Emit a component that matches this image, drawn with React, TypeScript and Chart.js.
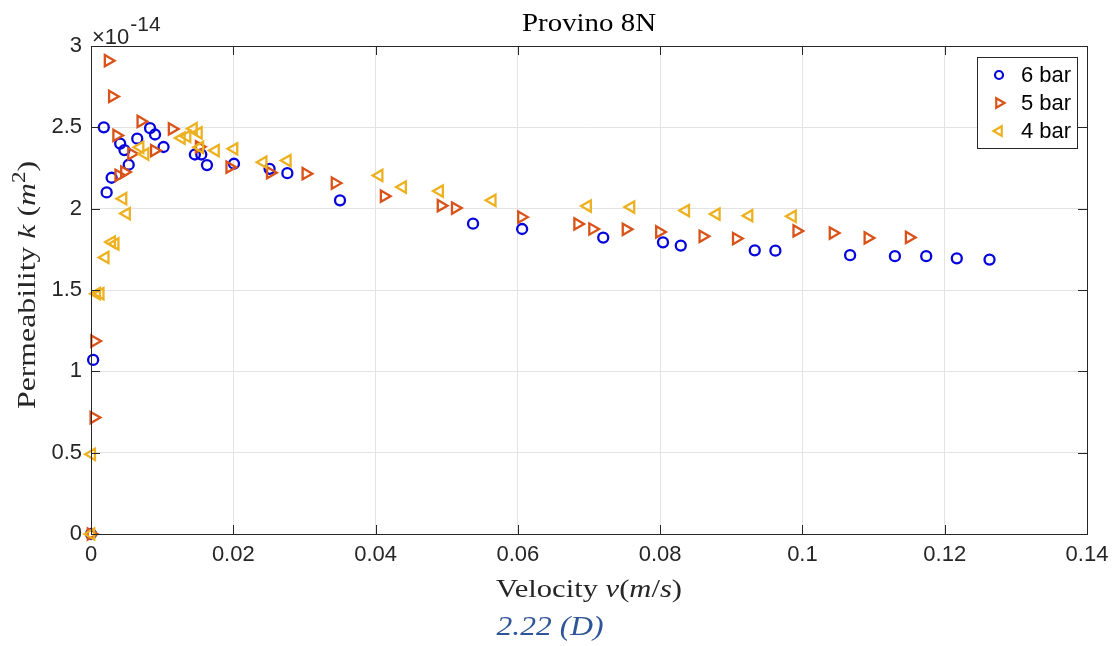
import React, { useEffect, useRef } from 'react';
import { Chart, registerables } from 'chart.js';

Chart.register(...registerables);

// ---- data (permeability in units of 1e-14 m^2) ----
const seriesLabels = ['6 bar', '5 bar', '4 bar'];

const velocity6 = [0, 0.0003, 0.0018, 0.0022, 0.0029, 0.0041, 0.0047, 0.0053, 0.0065, 0.0083, 0.009, 0.0102, 0.0146, 0.0155, 0.0163, 0.0201, 0.0251, 0.0276, 0.035, 0.0537, 0.0606, 0.072, 0.0804, 0.0829, 0.0933, 0.0962, 0.1067, 0.113, 0.1174, 0.1217, 0.1263];
const perm6 = [0, 1.07, 2.5, 2.1, 2.19, 2.4, 2.36, 2.27, 2.43, 2.495, 2.456, 2.379, 2.333, 2.333, 2.268, 2.276, 2.245, 2.218, 2.051, 1.908, 1.875, 1.822, 1.793, 1.773, 1.744, 1.742, 1.714, 1.708, 1.708, 1.695, 1.687];

const velocity5 = [0, 0.0004, 0.0005, 0.0024, 0.003, 0.0036, 0.0039, 0.0047, 0.0057, 0.007, 0.0089, 0.0114, 0.0152, 0.0195, 0.0252, 0.0302, 0.0343, 0.0412, 0.0492, 0.0512, 0.0605, 0.0684, 0.0705, 0.0752, 0.0799, 0.086, 0.0907, 0.0992, 0.1043, 0.1092, 0.115];
const perm5 = [0, 0.716, 1.186, 2.91, 2.69, 2.45, 2.205, 2.225, 2.337, 2.536, 2.357, 2.49, 2.38, 2.255, 2.221, 2.215, 2.157, 2.077, 2.018, 2.004, 1.948, 1.906, 1.875, 1.873, 1.857, 1.83, 1.816, 1.863, 1.85, 1.82, 1.823];

const velocity4 = [0, 0.0001, 0.0008, 0.0013, 0.002, 0.0029, 0.0034, 0.0045, 0.005, 0.0069, 0.0076, 0.0127, 0.0135, 0.0144, 0.0151, 0.0153, 0.0175, 0.0201, 0.0242, 0.0276, 0.0405, 0.0438, 0.049, 0.0564, 0.0698, 0.0759, 0.0836, 0.0879, 0.0925, 0.0986];
const perm4 = [0, 0.49, 1.477, 1.477, 1.7, 1.795, 1.783, 2.061, 1.97, 2.377, 2.336, 2.434, 2.445, 2.492, 2.466, 2.377, 2.357, 2.368, 2.286, 2.296, 2.204, 2.133, 2.108, 2.051, 2.016, 2.01, 1.988, 1.967, 1.957, 1.953];

const xTickValues = [0, 0.02, 0.04, 0.06, 0.08, 0.1, 0.12, 0.14];
const yTickValues = [0, 0.5, 1, 1.5, 2, 2.5, 3];

const titleText = 'Provino 8N';
const captionText = '2.22 (D)';

const colors = ['#0505dc', '#d95319', '#edb120'];

const SERIF = '"Liberation Serif", "Times New Roman", serif';
const SANS = '"Liberation Sans", Arial, Helvetica, sans-serif';
const AXIS = '#262626';

type Seg = { t: string; it?: boolean; sup?: boolean };

function drawSegs(ctx: CanvasRenderingContext2D, segs: Seg[], cx: number, baseline: number, size: number, target?: number) {
  const fontOf = (s: Seg) => `${s.it ? 'italic ' : ''}${s.sup ? Math.round(size * 0.7) : size}px ${SERIF}`;
  let total = 0;
  segs.forEach((s) => { ctx.font = fontOf(s); total += ctx.measureText(s.t).width; });
  const sx = target ? target / total : 1;
  ctx.save();
  ctx.translate(cx, baseline);
  ctx.scale(sx, 1);
  let x = -total / 2;
  ctx.textAlign = 'left';
  ctx.textBaseline = 'alphabetic';
  segs.forEach((s) => {
    ctx.font = fontOf(s);
    ctx.fillText(s.t, x, s.sup ? -size * 0.4 : 0);
    x += ctx.measureText(s.t).width;
  });
  ctx.restore();
}

function drawMarker(ctx: CanvasRenderingContext2D, kind: number, x: number, y: number, r: number, color: string) {
  ctx.strokeStyle = color;
  ctx.lineWidth = 2.2;
  ctx.beginPath();
  if (kind === 0) {
    ctx.arc(x, y, r, 0, Math.PI * 2);
  } else {
    const dir = kind === 1 ? 1 : -1;
    ctx.moveTo(x + dir * r, y);
    ctx.lineTo(x - dir * r * 0.5, y - r * 0.866);
    ctx.lineTo(x - dir * r * 0.5, y + r * 0.866);
    ctx.closePath();
  }
  ctx.stroke();
}

const decorPlugin = {
  id: 'decor',
  afterDraw(chart: any) {
    const { ctx, chartArea: a, scales } = chart;
    const xs = scales.x;
    const ys = scales.y;
    ctx.save();
    // frame
    ctx.strokeStyle = AXIS;
    ctx.lineWidth = 1;
    ctx.strokeRect(Math.round(a.left) + 0.5, Math.round(a.top) + 0.5, Math.round(a.right - a.left), Math.round(a.bottom - a.top));
    // inward ticks
    const tl = 9;
    ctx.beginPath();
    xTickValues.forEach((v) => {
      const px = Math.round(xs.getPixelForValue(v)) + 0.5;
      ctx.moveTo(px, a.bottom); ctx.lineTo(px, a.bottom - tl);
      ctx.moveTo(px, a.top); ctx.lineTo(px, a.top + tl);
    });
    yTickValues.forEach((v) => {
      const py = Math.round(ys.getPixelForValue(v)) + 0.5;
      ctx.moveTo(a.left, py); ctx.lineTo(a.left + tl, py);
      ctx.moveTo(a.right, py); ctx.lineTo(a.right - tl, py);
    });
    ctx.stroke();

    // title
    ctx.fillStyle = '#000';
    drawSegs(ctx, [{ t: titleText }], (a.left + a.right) / 2, 31, 25, 134);

    // exponent label
    ctx.fillStyle = AXIS;
    ctx.textAlign = 'left';
    ctx.textBaseline = 'alphabetic';
    ctx.font = `22px ${SANS}`;
    ctx.fillText('\u00d710', a.left + 1, 44);
    const w = ctx.measureText('\u00d710').width;
    ctx.font = `21px ${SANS}`;
    ctx.fillText('-14', a.left + 1 + w + 1, 31);

    // x axis title
    ctx.fillStyle = AXIS;
    drawSegs(ctx, [
      { t: 'Velocity ' }, { t: 'v', it: true }, { t: '(' }, { t: 'm', it: true }, { t: '/' }, { t: 's', it: true }, { t: ')' },
    ], (a.left + a.right) / 2, 597, 25, 186);

    // y axis title
    ctx.save();
    ctx.translate(35, (a.top + a.bottom) / 2 - 5);
    ctx.rotate(-Math.PI / 2);
    drawSegs(ctx, [
      { t: 'Permeability ' }, { t: 'k', it: true }, { t: ' (' }, { t: 'm', it: true }, { t: '2', sup: true }, { t: ')' },
    ], 0, 0, 25, 248);
    ctx.restore();

    // caption
    ctx.fillStyle = '#2e5597';
    drawSegs(ctx, [{ t: captionText, it: true }], 550, 635, 28, 107);

    // legend
    const lx = 977, ly = 57, lw = 100, lh = 91;
    ctx.fillStyle = '#fff';
    ctx.fillRect(lx, ly, lw, lh);
    ctx.strokeStyle = AXIS;
    ctx.lineWidth = 1;
    ctx.strokeRect(lx + 0.5, ly + 0.5, lw, lh);
    const rows = [75, 103, 131];
    seriesLabels.forEach((lab, i) => {
      drawMarker(ctx, i, 999, rows[i], i === 0 ? 4 : 5.5, colors[i]);
      ctx.fillStyle = '#000';
      ctx.font = `22px ${SANS}`;
      ctx.textAlign = 'left';
      ctx.textBaseline = 'middle';
      ctx.fillText(lab, 1021, rows[i] + 1);
    });
    ctx.restore();
  },
};

function toPoints(xs: number[], ys: number[]) {
  return xs.map((x, i) => ({ x, y: ys[i] }));
}

export default function App() {
  const ref = useRef<HTMLCanvasElement | null>(null);

  useEffect(() => {
    const canvas = ref.current;
    if (!canvas) return;
    const chart = new Chart(canvas, {
      type: 'scatter',
      data: {
        datasets: [
          {
            label: seriesLabels[0],
            data: toPoints(velocity6, perm6),
            pointStyle: 'circle',
            pointRadius: 5,
            pointBorderWidth: 2.3,
            borderColor: colors[0],
            backgroundColor: 'rgba(0,0,0,0)',
            clip: false,
            order: 2,
          },
          {
            label: seriesLabels[1],
            data: toPoints(velocity5, perm5),
            pointStyle: 'triangle',
            pointRotation: 90,
            pointRadius: 6.5,
            pointBorderWidth: 2.3,
            borderColor: colors[1],
            backgroundColor: 'rgba(0,0,0,0)',
            clip: false,
            order: 1,
          },
          {
            label: seriesLabels[2],
            data: toPoints(velocity4, perm4),
            pointStyle: 'triangle',
            pointRotation: -90,
            pointRadius: 6.5,
            pointBorderWidth: 2.3,
            borderColor: colors[2],
            backgroundColor: 'rgba(0,0,0,0)',
            clip: false,
            order: 0,
          },
        ],
      },
      options: {
        responsive: false,
        animation: false,
        devicePixelRatio: 1,
        events: [],
        layout: { padding: { top: 46, left: 0, right: 32, bottom: 72 } },
        plugins: {
          legend: { display: false },
          tooltip: { enabled: false },
          title: { display: false },
        },
        scales: {
          x: {
            type: 'linear',
            min: 0,
            max: 0.14,
            afterFit: (s: any) => { s.height = 40; },
            afterBuildTicks: (s: any) => { s.ticks = xTickValues.map((v) => ({ value: v })); },
            ticks: {
              padding: 8,
              color: AXIS,
              font: { family: SANS, size: 22 },
              callback: (v: any) => String(parseFloat(Number(v).toFixed(2))),
              maxRotation: 0,
            },
            grid: { color: '#e3e3e3', drawTicks: false },
            border: { display: true, color: AXIS },
          },
          y: {
            type: 'linear',
            min: 0,
            max: 3,
            afterFit: (s: any) => { s.width = 91; },
            afterBuildTicks: (s: any) => { s.ticks = yTickValues.map((v) => ({ value: v })); },
            ticks: {
              padding: 9,
              color: AXIS,
              font: { family: SANS, size: 22 },
              callback: (v: any) => String(parseFloat(Number(v).toFixed(2))),
            },
            grid: { color: '#e3e3e3', drawTicks: false },
            border: { display: true, color: AXIS },
          },
        },
      },
      plugins: [decorPlugin],
    } as any);
    return () => chart.destroy();
  }, []);

  return (
    <div style={{ position: 'absolute', left: 0, top: 0, width: 1119, height: 646, background: '#fff' }}>
      <canvas ref={ref} width={1119} height={646} style={{ width: 1119, height: 646, display: 'block' }} />
    </div>
  );
}
